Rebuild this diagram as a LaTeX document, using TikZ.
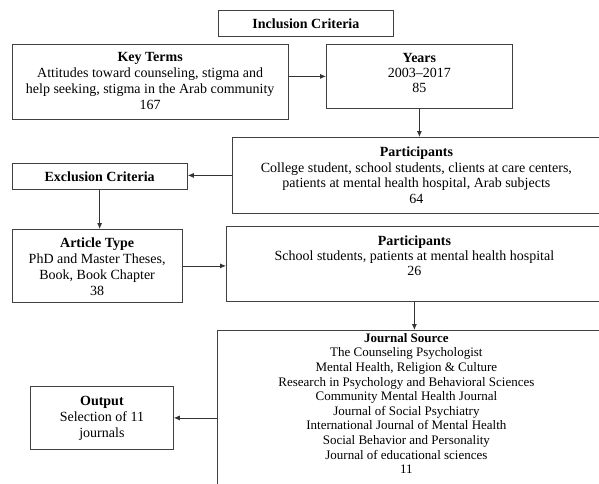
\documentclass[tikz,border=0pt]{standalone}
\usepackage{fontspec}
\setmainfont{Liberation Serif}
\usetikzlibrary{arrows.meta,calc}
\begin{document}
\begin{tikzpicture}[x=1pt,y=-1pt,
  box/.style={draw=black!75, line width=0.8pt, inner sep=0pt, anchor=north west},
  txt/.style={inner sep=0pt, align=center, anchor=north},
  arr/.style={draw=black!80, line width=0.8pt, -{Latex[length=6pt,width=5pt]}}]
\useasboundingbox (0,0) rectangle (599,483);
\clip (0,0) rectangle (599,483);
\fill[white] (0,0) rectangle (599,483);
% boxes
\node[box, minimum width=175pt, minimum height=26pt, font=\fontsize{14}{16}\selectfont] (incl) at (218,10) {\textbf{Inclusion Criteria}};
\node[box, minimum width=276.5pt, minimum height=75pt] (kt) at (11.5,44) {};
\node[box, minimum width=186pt, minimum height=64pt] (yrs) at (326,44) {};
\node[box, minimum width=370pt, minimum height=76pt] (p1) at (232,137) {};
\node[box, minimum width=175.5pt, minimum height=26pt, font=\fontsize{14}{16}\selectfont] (excl) at (11.5,163) {\textbf{Exclusion Criteria}};
\node[box, minimum width=170.5pt, minimum height=73pt] (art) at (11.5,229) {};
\node[box, minimum width=376pt, minimum height=75pt] (p2) at (226,226) {};
\node[box, minimum width=386pt, minimum height=160pt] (jrn) at (217,330) {};
\node[box, minimum width=143pt, minimum height=63pt] (out) at (30,386) {};
% texts
\node[txt, font=\fontsize{14}{16}\selectfont] (ktt) at ($(kt.north)+(0,8)$) {\textbf{Key Terms}\\Attitudes toward counseling, stigma and\\help seeking, stigma in the Arab community\\167};
\node[txt, font=\fontsize{14}{15}\selectfont] (yrst) at ($(yrs.north)+(0,9)$) {\textbf{Years}\\2003--2017\\85};
\node[txt, font=\fontsize{14}{15.5}\selectfont] (p1t) at ($(p1.north)+(-1,10)$) {\textbf{Participants}\\College student, school students, clients at care centers,\\patients at mental health hospital, Arab subjects\\64};
\node[txt, font=\fontsize{14}{16}\selectfont] (artt) at ($(art.north)+(0,9)$) {\textbf{Article Type}\\PhD and Master Theses,\\Book, Book Chapter\\38};
\node[txt, font=\fontsize{14}{15}\selectfont] (p2t) at ($(p2.north)+(0,10)$) {\textbf{Participants}\\School students, patients at mental health hospital\\26};
\node[txt, font=\fontsize{13}{14.6}\selectfont] (jrnt) at ($(jrn.north)+(-4,3)$) {\textbf{Journal Source}\\The Counseling Psychologist\\Mental Health, Religion \& Culture\\Research in Psychology and Behavioral Sciences\\Community Mental Health Journal\\Journal of Social Psychiatry\\International Journal of Mental Health\\Social Behavior and Personality\\Journal of educational sciences\\11};
\node[txt, font=\fontsize{14}{16}\selectfont] (outt) at ($(out.north)+(0,10)$) {\textbf{Output}\\Selection of 11\\journals};
% connectors
\draw[arr] (yrs.west -| kt.east) -- (yrs.west);
\draw[arr] (yrs.south) -- (yrs.south |- p1.north);
\draw[arr] (p1.west) -- (p1.west -| excl.east);
\draw[arr] (excl.south) -- (excl.south |- art.north);
\draw[arr] (art.east) -- (art.east -| p2.west);
\draw[arr] (p2.south) -- (p2.south |- jrn.north);
\draw[arr] (out.east -| jrn.west) -- (out.east);
\end{tikzpicture}
\end{document}
